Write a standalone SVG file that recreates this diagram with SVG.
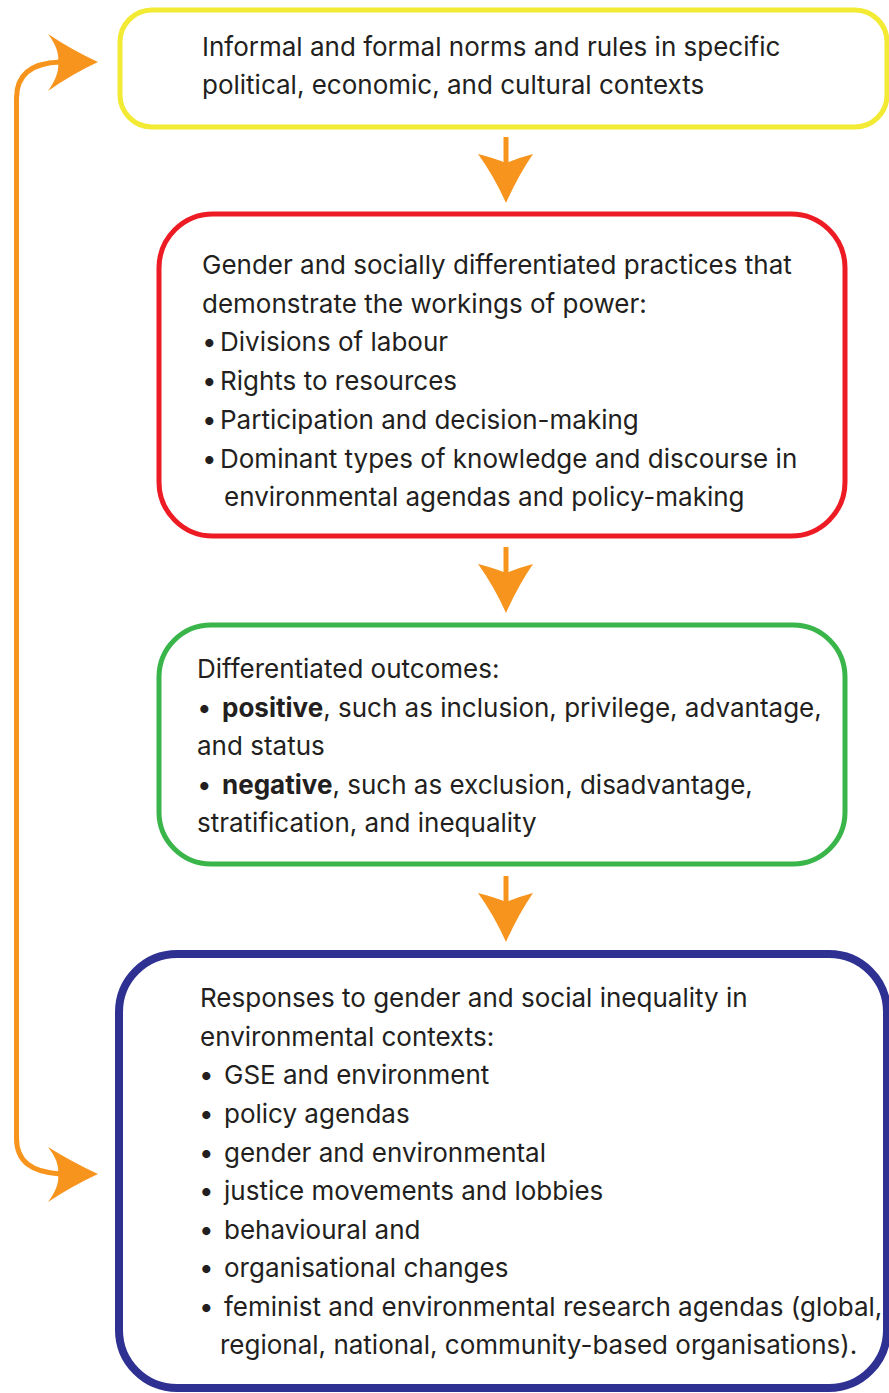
<svg xmlns="http://www.w3.org/2000/svg" width="889" height="1393" viewBox="0 0 889 1393">
<style>
.t{font-family:Inter,"Noto Sans","Liberation Sans",sans-serif;font-size:26px;fill:#231f20}
.b{font-weight:700}
.box{fill:#fff}
.arr{fill:#f7941d}
.shaft{stroke:#f7941d;stroke-width:5;fill:none}
</style>
<rect width="889" height="1393" fill="#fff"/>
<g id="connectors">
<path class="shaft" d="M60,1174 C32,1172 16.5,1162 16.5,1138 L16.5,98 C16.5,74 32,63 60,62"/>
<path class="arr" d="M98,62 Q72,50 48,34 Q60,50 58,62 Q60,74 48,91 Q72,74 98,62 Z"/>
<path class="arr" d="M98,1174 Q72,1162 48,1147 Q60,1162 58,1174 Q60,1186 48,1202 Q72,1186 98,1174 Z"/>
<line class="shaft" x1="506" y1="137" x2="506" y2="165"/>
<path class="arr" d="M506,203 Q494,176 478,154 Q494,158 506,163 Q518,158 533,154 Q518,176 506,203 Z"/>
<line class="shaft" x1="506" y1="547" x2="506" y2="575"/>
<path class="arr" d="M506,613 Q494,586 478,564 Q494,568 506,573 Q518,568 533,564 Q518,586 506,613 Z"/>
<line class="shaft" x1="506" y1="876" x2="506" y2="904"/>
<path class="arr" d="M506,942 Q494,915 478,893 Q494,897 506,902 Q518,897 533,893 Q518,915 506,942 Z"/>
</g>
<g id="node-norms">
<rect class="box" x="120" y="10" width="767" height="117" rx="32" stroke="#f2ea33" stroke-width="5"/>
<text class="t" x="202" y="56">Informal and formal norms and rules in specific</text>
<text class="t" x="202" y="94">political, economic, and cultural contexts</text>
</g>
<g id="node-practices">
<rect class="box" x="159" y="214" width="686" height="322" rx="54" stroke="#ed1c24" stroke-width="5"/>
<text class="t" x="202" y="274">Gender and socially differentiated practices that</text>
<text class="t" x="202" y="312.7">demonstrate the workings of power:</text>
<text class="t" x="202" y="351.4">•</text><text class="t" x="220" y="351.4">Divisions of labour</text>
<text class="t" x="202" y="390">•</text><text class="t" x="220" y="390">Rights to resources</text>
<text class="t" x="202" y="428.8">•</text><text class="t" x="220" y="428.8">Participation and decision-making</text>
<text class="t" x="202" y="467.5">•</text><text class="t" x="220" y="467.5">Dominant types of knowledge and discourse in</text>
<text class="t" x="224" y="506">environmental agendas and policy-making</text>
</g>
<g id="node-outcomes">
<rect class="box" x="159" y="625" width="686" height="239" rx="52" stroke="#39b54a" stroke-width="5"/>
<text class="t" x="197" y="678">Differentiated outcomes:</text>
<text class="t" x="197" y="716.5">•</text><text class="t" x="222" y="716.5"><tspan class="b">positive</tspan>, such as inclusion, privilege, advantage,</text>
<text class="t" x="197" y="755">and status</text>
<text class="t" x="197" y="793.5">•</text><text class="t" x="222" y="793.5"><tspan class="b">negative</tspan>, such as exclusion, disadvantage,</text>
<text class="t" x="197" y="832">stratification, and inequality</text>
</g>
<g id="node-responses">
<rect class="box" x="119" y="954" width="768" height="434" rx="58" stroke="#2e3192" stroke-width="8"/>
<text class="t" x="200" y="1007">Responses to gender and social inequality in</text>
<text class="t" x="200" y="1045.5">environmental contexts:</text>
<text class="t" x="199" y="1084">•</text><text class="t" x="224" y="1084">GSE and environment</text>
<text class="t" x="199" y="1122.5">•</text><text class="t" x="224" y="1122.5">policy agendas</text>
<text class="t" x="199" y="1161.5">•</text><text class="t" x="224" y="1161.5">gender and environmental</text>
<text class="t" x="199" y="1200">•</text><text class="t" x="224" y="1200">justice movements and lobbies</text>
<text class="t" x="199" y="1238.5">•</text><text class="t" x="224" y="1238.5">behavioural and</text>
<text class="t" x="199" y="1277">•</text><text class="t" x="224" y="1277">organisational changes</text>
<text class="t" x="199" y="1315.5">•</text><text class="t" x="224" y="1315.5">feminist and environmental research agendas (global,</text>
<text class="t" x="220" y="1354">regional, national, community-based organisations).</text>
</g>
</svg>
